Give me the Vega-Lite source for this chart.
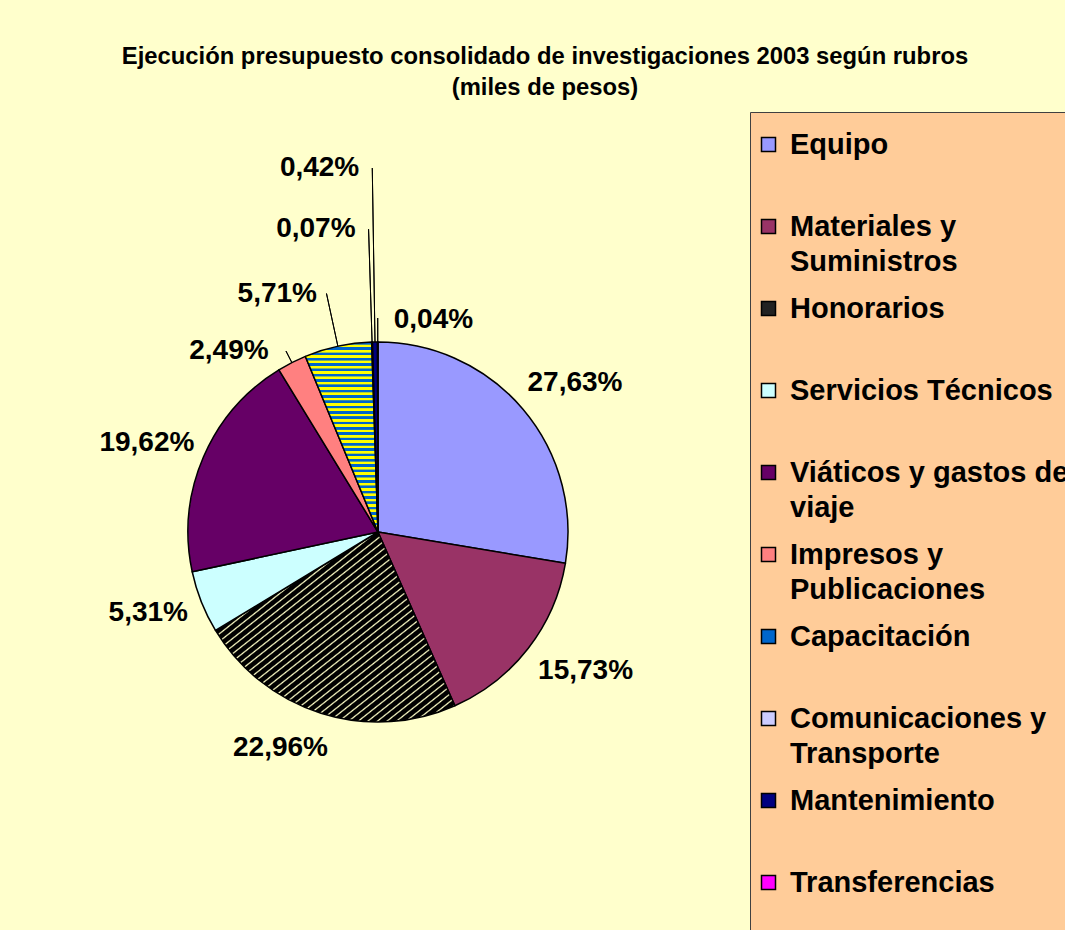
{
  "$schema": "https://vega.github.io/schema/vega-lite/v6.json",
  "width": 740,
  "height": 1040,
  "autosize": "none",
  "padding": {"left": 8, "top": 12, "right": 317, "bottom": 0},
  "background": "#FFFFCC",
  "title": {
    "text": ["Ejecución presupuesto consolidado de investigaciones 2003 según rubros", "(miles de pesos)"],
    "font": "Liberation Sans",
    "fontSize": 23.8,
    "fontWeight": "bold",
    "color": "#000000",
    "lineHeight": 31,
    "anchor": "middle",
    "dx": 167,
    "offset": -88
  },
  "data": {
    "values": [
      {"i": 1, "rubro": "Equipo", "share": 0.2763},
      {"i": 2, "rubro": "Materiales y Suministros", "share": 0.1573},
      {"i": 3, "rubro": "Honorarios", "share": 0.2296},
      {"i": 4, "rubro": "Servicios Técnicos", "share": 0.0531},
      {"i": 5, "rubro": "Viáticos y gastos de viaje", "share": 0.1962},
      {"i": 6, "rubro": "Impresos y Publicaciones", "share": 0.0249},
      {"i": 7, "rubro": "Capacitación", "share": 0.0571},
      {"i": 8, "rubro": "Comunicaciones y Transporte", "share": 0.0007},
      {"i": 9, "rubro": "Mantenimiento", "share": 0.0042},
      {"i": 10, "rubro": "Transferencias", "share": 0.0004}
    ]
  },
  "layer": [
    {
      "mark": {"type": "arc", "outerRadius": 190, "stroke": "#000000", "strokeWidth": 1.5, "strokeJoin": "round"},
      "encoding": {
        "theta": {"field": "share", "type": "quantitative", "stack": true},
        "order": {"field": "i", "type": "quantitative"},
        "fill": {
          "field": "rubro",
          "type": "nominal",
          "scale": {
            "domain": ["Equipo", "Materiales y Suministros", "Honorarios", "Servicios Técnicos", "Viáticos y gastos de viaje", "Impresos y Publicaciones", "Capacitación", "Comunicaciones y Transporte", "Mantenimiento", "Transferencias"],
            "range": ["#9999FF", "#993366", "#222222", "#CCFFFF", "#660066", "#FF8080", "#0066CC", "#CCCCFF", "#000080", "#FF00FF"]
          },
          "legend": {
            "title": " ",
            "titleFontSize": 4,
            "titlePadding": 10,
            "orient": "none",
            "legendX": 742,
            "legendY": 100,
            "direction": "vertical",
            "fillColor": "#FFCC99",
            "strokeColor": "#404040",
            "padding": 4,
            "symbolType": "square",
            "symbolSize": 196,
            "symbolStrokeColor": "#000000",
            "symbolStrokeWidth": 1.5,
            "labelFont": "Liberation Sans",
            "labelFontSize": 29,
            "labelFontWeight": "bold",
            "labelColor": "#000000",
            "labelOffset": 7,
            "labelLimit": 600,
            "rowPadding": 17,
            "labelExpr": "datum.label === 'Materiales y Suministros' ? ['Materiales y', 'Suministros'] : datum.label === 'Viáticos y gastos de viaje' ? ['Viáticos y gastos de', 'viaje'] : datum.label === 'Impresos y Publicaciones' ? ['Impresos y', 'Publicaciones'] : datum.label === 'Comunicaciones y Transporte' ? ['Comunicaciones y', 'Transporte'] : [datum.label, '']",
            "encoding": {
              "labels": {"lineHeight": {"value": 35}},
              "symbols": {
                "stroke": {"value": "#000000"},
                "strokeWidth": {"value": 1.5},
                "fill": {"value": {"signal": "datum.value === 'Honorarios' ? {gradient: 'linear', x1: 0, y1: 0, x2: 1, y2: 1, stops: [{offset: 0, color: '#000000'}, {offset: 0.38, color: '#000000'}, {offset: 0.5, color: '#FFFFC8'}, {offset: 0.62, color: '#000000'}, {offset: 1, color: '#000000'}]} : datum.value === 'Capacitación' ? {gradient: 'linear', x1: 0, y1: 0, x2: 0, y2: 1, stops: [{offset: 0, color: '#0066CC'}, {offset: 0.22, color: '#0066CC'}, {offset: 0.22, color: '#FFFF00'}, {offset: 0.4, color: '#FFFF00'}, {offset: 0.4, color: '#0066CC'}, {offset: 0.6, color: '#0066CC'}, {offset: 0.6, color: '#FFFF00'}, {offset: 0.78, color: '#FFFF00'}, {offset: 0.78, color: '#0066CC'}, {offset: 1, color: '#0066CC'}]} : scale('fill', datum.value)"}}
              }
            }
          },
          "condition": [
            {
              "test": "datum.rubro === 'Honorarios'",
              "value": {
                "gradient": "linear", "x1": 0, "y1": 0, "x2": 1, "y2": 1,
                "stops": [
                  {"offset": 0, "color": "#000000"}, {"offset": 0.012, "color": "#000000"}, {"offset": 0.016, "color": "#FFFFC8"},
                  {"offset": 0.02, "color": "#000000"}, {"offset": 0.032, "color": "#000000"}, {"offset": 0.036, "color": "#FFFFC8"},
                  {"offset": 0.04, "color": "#000000"}, {"offset": 0.052, "color": "#000000"}, {"offset": 0.056, "color": "#FFFFC8"},
                  {"offset": 0.06, "color": "#000000"}, {"offset": 0.072, "color": "#000000"}, {"offset": 0.076, "color": "#FFFFC8"},
                  {"offset": 0.08, "color": "#000000"}, {"offset": 0.092, "color": "#000000"}, {"offset": 0.096, "color": "#FFFFC8"},
                  {"offset": 0.1, "color": "#000000"}, {"offset": 0.112, "color": "#000000"}, {"offset": 0.116, "color": "#FFFFC8"},
                  {"offset": 0.12, "color": "#000000"}, {"offset": 0.132, "color": "#000000"}, {"offset": 0.136, "color": "#FFFFC8"},
                  {"offset": 0.14, "color": "#000000"}, {"offset": 0.152, "color": "#000000"}, {"offset": 0.156, "color": "#FFFFC8"},
                  {"offset": 0.16, "color": "#000000"}, {"offset": 0.172, "color": "#000000"}, {"offset": 0.176, "color": "#FFFFC8"},
                  {"offset": 0.18, "color": "#000000"}, {"offset": 0.192, "color": "#000000"}, {"offset": 0.196, "color": "#FFFFC8"},
                  {"offset": 0.2, "color": "#000000"}, {"offset": 0.212, "color": "#000000"}, {"offset": 0.216, "color": "#FFFFC8"},
                  {"offset": 0.22, "color": "#000000"}, {"offset": 0.232, "color": "#000000"}, {"offset": 0.236, "color": "#FFFFC8"},
                  {"offset": 0.24, "color": "#000000"}, {"offset": 0.252, "color": "#000000"}, {"offset": 0.256, "color": "#FFFFC8"},
                  {"offset": 0.26, "color": "#000000"}, {"offset": 0.272, "color": "#000000"}, {"offset": 0.276, "color": "#FFFFC8"},
                  {"offset": 0.28, "color": "#000000"}, {"offset": 0.292, "color": "#000000"}, {"offset": 0.296, "color": "#FFFFC8"},
                  {"offset": 0.3, "color": "#000000"}, {"offset": 0.312, "color": "#000000"}, {"offset": 0.316, "color": "#FFFFC8"},
                  {"offset": 0.32, "color": "#000000"}, {"offset": 0.332, "color": "#000000"}, {"offset": 0.336, "color": "#FFFFC8"},
                  {"offset": 0.34, "color": "#000000"}, {"offset": 0.352, "color": "#000000"}, {"offset": 0.356, "color": "#FFFFC8"},
                  {"offset": 0.36, "color": "#000000"}, {"offset": 0.372, "color": "#000000"}, {"offset": 0.376, "color": "#FFFFC8"},
                  {"offset": 0.38, "color": "#000000"}, {"offset": 0.392, "color": "#000000"}, {"offset": 0.396, "color": "#FFFFC8"},
                  {"offset": 0.4, "color": "#000000"}, {"offset": 0.412, "color": "#000000"}, {"offset": 0.416, "color": "#FFFFC8"},
                  {"offset": 0.42, "color": "#000000"}, {"offset": 0.432, "color": "#000000"}, {"offset": 0.436, "color": "#FFFFC8"},
                  {"offset": 0.44, "color": "#000000"}, {"offset": 0.452, "color": "#000000"}, {"offset": 0.456, "color": "#FFFFC8"},
                  {"offset": 0.46, "color": "#000000"}, {"offset": 0.472, "color": "#000000"}, {"offset": 0.476, "color": "#FFFFC8"},
                  {"offset": 0.48, "color": "#000000"}, {"offset": 0.492, "color": "#000000"}, {"offset": 0.496, "color": "#FFFFC8"},
                  {"offset": 0.5, "color": "#000000"}, {"offset": 0.512, "color": "#000000"}, {"offset": 0.516, "color": "#FFFFC8"},
                  {"offset": 0.52, "color": "#000000"}, {"offset": 0.532, "color": "#000000"}, {"offset": 0.536, "color": "#FFFFC8"},
                  {"offset": 0.54, "color": "#000000"}, {"offset": 0.552, "color": "#000000"}, {"offset": 0.556, "color": "#FFFFC8"},
                  {"offset": 0.56, "color": "#000000"}, {"offset": 0.572, "color": "#000000"}, {"offset": 0.576, "color": "#FFFFC8"},
                  {"offset": 0.58, "color": "#000000"}, {"offset": 0.592, "color": "#000000"}, {"offset": 0.596, "color": "#FFFFC8"},
                  {"offset": 0.6, "color": "#000000"}, {"offset": 0.612, "color": "#000000"}, {"offset": 0.616, "color": "#FFFFC8"},
                  {"offset": 0.62, "color": "#000000"}, {"offset": 0.632, "color": "#000000"}, {"offset": 0.636, "color": "#FFFFC8"},
                  {"offset": 0.64, "color": "#000000"}, {"offset": 0.652, "color": "#000000"}, {"offset": 0.656, "color": "#FFFFC8"},
                  {"offset": 0.66, "color": "#000000"}, {"offset": 0.672, "color": "#000000"}, {"offset": 0.676, "color": "#FFFFC8"},
                  {"offset": 0.68, "color": "#000000"}, {"offset": 0.692, "color": "#000000"}, {"offset": 0.696, "color": "#FFFFC8"},
                  {"offset": 0.7, "color": "#000000"}, {"offset": 0.712, "color": "#000000"}, {"offset": 0.716, "color": "#FFFFC8"},
                  {"offset": 0.72, "color": "#000000"}, {"offset": 0.732, "color": "#000000"}, {"offset": 0.736, "color": "#FFFFC8"},
                  {"offset": 0.74, "color": "#000000"}, {"offset": 0.752, "color": "#000000"}, {"offset": 0.756, "color": "#FFFFC8"},
                  {"offset": 0.76, "color": "#000000"}, {"offset": 0.772, "color": "#000000"}, {"offset": 0.776, "color": "#FFFFC8"},
                  {"offset": 0.78, "color": "#000000"}, {"offset": 0.792, "color": "#000000"}, {"offset": 0.796, "color": "#FFFFC8"},
                  {"offset": 0.8, "color": "#000000"}, {"offset": 0.812, "color": "#000000"}, {"offset": 0.816, "color": "#FFFFC8"},
                  {"offset": 0.82, "color": "#000000"}, {"offset": 0.832, "color": "#000000"}, {"offset": 0.836, "color": "#FFFFC8"},
                  {"offset": 0.84, "color": "#000000"}, {"offset": 0.852, "color": "#000000"}, {"offset": 0.856, "color": "#FFFFC8"},
                  {"offset": 0.86, "color": "#000000"}, {"offset": 0.872, "color": "#000000"}, {"offset": 0.876, "color": "#FFFFC8"},
                  {"offset": 0.88, "color": "#000000"}, {"offset": 0.892, "color": "#000000"}, {"offset": 0.896, "color": "#FFFFC8"},
                  {"offset": 0.9, "color": "#000000"}, {"offset": 0.912, "color": "#000000"}, {"offset": 0.916, "color": "#FFFFC8"},
                  {"offset": 0.92, "color": "#000000"}, {"offset": 0.932, "color": "#000000"}, {"offset": 0.936, "color": "#FFFFC8"},
                  {"offset": 0.94, "color": "#000000"}, {"offset": 0.952, "color": "#000000"}, {"offset": 0.956, "color": "#FFFFC8"},
                  {"offset": 0.96, "color": "#000000"}, {"offset": 0.972, "color": "#000000"}, {"offset": 0.976, "color": "#FFFFC8"},
                  {"offset": 0.98, "color": "#000000"}, {"offset": 0.992, "color": "#000000"}, {"offset": 0.996, "color": "#FFFFC8"},
                  {"offset": 1, "color": "#000000"}
                ]
              }
            },
            {
              "test": "datum.rubro === 'Capacitación'",
              "value": {
                "gradient": "linear", "x1": 0, "y1": 0, "x2": 0, "y2": 1,
                "stops": [
                  {"offset": 0, "color": "#0066CC"}, {"offset": 0.012, "color": "#0066CC"}, {"offset": 0.014, "color": "#FFFF00"}, {"offset": 0.026, "color": "#FFFF00"},
                  {"offset": 0.028, "color": "#0066CC"}, {"offset": 0.04, "color": "#0066CC"}, {"offset": 0.042, "color": "#FFFF00"}, {"offset": 0.054, "color": "#FFFF00"},
                  {"offset": 0.056, "color": "#0066CC"}, {"offset": 0.068, "color": "#0066CC"}, {"offset": 0.07, "color": "#FFFF00"}, {"offset": 0.082, "color": "#FFFF00"},
                  {"offset": 0.084, "color": "#0066CC"}, {"offset": 0.096, "color": "#0066CC"}, {"offset": 0.098, "color": "#FFFF00"}, {"offset": 0.11, "color": "#FFFF00"},
                  {"offset": 0.112, "color": "#0066CC"}, {"offset": 0.124, "color": "#0066CC"}, {"offset": 0.126, "color": "#FFFF00"}, {"offset": 0.138, "color": "#FFFF00"},
                  {"offset": 0.14, "color": "#0066CC"}, {"offset": 0.152, "color": "#0066CC"}, {"offset": 0.154, "color": "#FFFF00"}, {"offset": 0.166, "color": "#FFFF00"},
                  {"offset": 0.168, "color": "#0066CC"}, {"offset": 0.18, "color": "#0066CC"}, {"offset": 0.182, "color": "#FFFF00"}, {"offset": 0.194, "color": "#FFFF00"},
                  {"offset": 0.196, "color": "#0066CC"}, {"offset": 0.208, "color": "#0066CC"}, {"offset": 0.21, "color": "#FFFF00"}, {"offset": 0.222, "color": "#FFFF00"},
                  {"offset": 0.224, "color": "#0066CC"}, {"offset": 0.236, "color": "#0066CC"}, {"offset": 0.238, "color": "#FFFF00"}, {"offset": 0.25, "color": "#FFFF00"},
                  {"offset": 0.252, "color": "#0066CC"}, {"offset": 0.264, "color": "#0066CC"}, {"offset": 0.266, "color": "#FFFF00"}, {"offset": 0.278, "color": "#FFFF00"},
                  {"offset": 0.28, "color": "#0066CC"}, {"offset": 0.292, "color": "#0066CC"}, {"offset": 0.294, "color": "#FFFF00"}, {"offset": 0.306, "color": "#FFFF00"},
                  {"offset": 0.308, "color": "#0066CC"}, {"offset": 0.32, "color": "#0066CC"}, {"offset": 0.322, "color": "#FFFF00"}, {"offset": 0.334, "color": "#FFFF00"},
                  {"offset": 0.336, "color": "#0066CC"}, {"offset": 0.348, "color": "#0066CC"}, {"offset": 0.35, "color": "#FFFF00"}, {"offset": 0.362, "color": "#FFFF00"},
                  {"offset": 0.364, "color": "#0066CC"}, {"offset": 0.376, "color": "#0066CC"}, {"offset": 0.378, "color": "#FFFF00"}, {"offset": 0.39, "color": "#FFFF00"},
                  {"offset": 0.392, "color": "#0066CC"}, {"offset": 0.404, "color": "#0066CC"}, {"offset": 0.406, "color": "#FFFF00"}, {"offset": 0.418, "color": "#FFFF00"},
                  {"offset": 0.42, "color": "#0066CC"}, {"offset": 0.432, "color": "#0066CC"}, {"offset": 0.434, "color": "#FFFF00"}, {"offset": 0.446, "color": "#FFFF00"},
                  {"offset": 0.448, "color": "#0066CC"}, {"offset": 0.46, "color": "#0066CC"}, {"offset": 0.462, "color": "#FFFF00"}, {"offset": 0.474, "color": "#FFFF00"},
                  {"offset": 0.476, "color": "#0066CC"}, {"offset": 0.488, "color": "#0066CC"}, {"offset": 0.49, "color": "#FFFF00"}, {"offset": 0.502, "color": "#FFFF00"},
                  {"offset": 0.504, "color": "#0066CC"}, {"offset": 0.516, "color": "#0066CC"}, {"offset": 0.518, "color": "#FFFF00"}, {"offset": 0.53, "color": "#FFFF00"},
                  {"offset": 0.532, "color": "#0066CC"}, {"offset": 0.544, "color": "#0066CC"}, {"offset": 0.546, "color": "#FFFF00"}, {"offset": 0.558, "color": "#FFFF00"},
                  {"offset": 0.56, "color": "#0066CC"}, {"offset": 0.572, "color": "#0066CC"}, {"offset": 0.574, "color": "#FFFF00"}, {"offset": 0.586, "color": "#FFFF00"},
                  {"offset": 0.588, "color": "#0066CC"}, {"offset": 0.6, "color": "#0066CC"}, {"offset": 0.602, "color": "#FFFF00"}, {"offset": 0.614, "color": "#FFFF00"},
                  {"offset": 0.616, "color": "#0066CC"}, {"offset": 0.628, "color": "#0066CC"}, {"offset": 0.63, "color": "#FFFF00"}, {"offset": 0.642, "color": "#FFFF00"},
                  {"offset": 0.644, "color": "#0066CC"}, {"offset": 0.656, "color": "#0066CC"}, {"offset": 0.658, "color": "#FFFF00"}, {"offset": 0.67, "color": "#FFFF00"},
                  {"offset": 0.672, "color": "#0066CC"}, {"offset": 0.684, "color": "#0066CC"}, {"offset": 0.686, "color": "#FFFF00"}, {"offset": 0.698, "color": "#FFFF00"},
                  {"offset": 0.7, "color": "#0066CC"}, {"offset": 0.712, "color": "#0066CC"}, {"offset": 0.714, "color": "#FFFF00"}, {"offset": 0.726, "color": "#FFFF00"},
                  {"offset": 0.728, "color": "#0066CC"}, {"offset": 0.74, "color": "#0066CC"}, {"offset": 0.742, "color": "#FFFF00"}, {"offset": 0.754, "color": "#FFFF00"},
                  {"offset": 0.756, "color": "#0066CC"}, {"offset": 0.768, "color": "#0066CC"}, {"offset": 0.77, "color": "#FFFF00"}, {"offset": 0.782, "color": "#FFFF00"},
                  {"offset": 0.784, "color": "#0066CC"}, {"offset": 0.796, "color": "#0066CC"}, {"offset": 0.798, "color": "#FFFF00"}, {"offset": 0.81, "color": "#FFFF00"},
                  {"offset": 0.812, "color": "#0066CC"}, {"offset": 0.824, "color": "#0066CC"}, {"offset": 0.826, "color": "#FFFF00"}, {"offset": 0.838, "color": "#FFFF00"},
                  {"offset": 0.84, "color": "#0066CC"}, {"offset": 0.852, "color": "#0066CC"}, {"offset": 0.854, "color": "#FFFF00"}, {"offset": 0.866, "color": "#FFFF00"},
                  {"offset": 0.868, "color": "#0066CC"}, {"offset": 0.88, "color": "#0066CC"}, {"offset": 0.882, "color": "#FFFF00"}, {"offset": 0.894, "color": "#FFFF00"},
                  {"offset": 0.896, "color": "#0066CC"}, {"offset": 0.908, "color": "#0066CC"}, {"offset": 0.91, "color": "#FFFF00"}, {"offset": 0.922, "color": "#FFFF00"},
                  {"offset": 0.924, "color": "#0066CC"}, {"offset": 0.936, "color": "#0066CC"}, {"offset": 0.938, "color": "#FFFF00"}, {"offset": 0.95, "color": "#FFFF00"},
                  {"offset": 0.952, "color": "#0066CC"}, {"offset": 0.964, "color": "#0066CC"}, {"offset": 0.966, "color": "#FFFF00"}, {"offset": 0.978, "color": "#FFFF00"},
                  {"offset": 0.98, "color": "#0066CC"}, {"offset": 0.992, "color": "#0066CC"}, {"offset": 0.994, "color": "#FFFF00"}, {"offset": 1, "color": "#FFFF00"}
                ]
              }
            }
          ]
        }
      }
    },
    {
      "mark": {
        "type": "arc",
        "innerRadius": 190,
        "outerRadius": {"expr": "datum.rubro === 'Impresos y Publicaciones' ? 203 : datum.rubro === 'Capacitación' ? 244 : datum.rubro === 'Comunicaciones y Transporte' ? 303 : datum.rubro === 'Mantenimiento' ? 364 : datum.rubro === 'Transferencias' ? 214 : 190"},
        "padAngle": 0.6,
        "fill": "transparent",
        "stroke": "#000000",
        "strokeWidth": {"expr": "indexof(['Impresos y Publicaciones', 'Capacitación', 'Comunicaciones y Transporte', 'Mantenimiento', 'Transferencias'], datum.rubro) >= 0 ? 1 : 0"}
      },
      "encoding": {
        "theta": {"field": "share", "type": "quantitative", "stack": true},
        "order": {"field": "i", "type": "quantitative"}
      }
    },
    {
      "mark": {
        "type": "text",
        "font": "Liberation Sans",
        "fontSize": 28,
        "fontWeight": "bold",
        "fill": "#000000",
        "baseline": "middle",
        "radius": {"expr": "datum.rubro === 'Mantenimiento' ? 364 : datum.rubro === 'Comunicaciones y Transporte' ? 303 : datum.rubro === 'Transferencias' ? 212 : 245"},
        "align": {"expr": "datum.rubro === 'Mantenimiento' || datum.rubro === 'Comunicaciones y Transporte' ? 'right' : datum.rubro === 'Transferencias' ? 'left' : 'center'"},
        "dx": {"expr": "datum.rubro === 'Equipo' ? 10 : datum.rubro === 'Materiales y Suministros' ? 14 : datum.rubro === 'Honorarios' ? -24 : datum.rubro === 'Servicios Técnicos' ? -2 : datum.rubro === 'Viáticos y gastos de viaje' ? -6 : datum.rubro === 'Impresos y Publicaciones' ? -38 : datum.rubro === 'Capacitación' ? -49 : datum.rubro === 'Transferencias' ? 16 : -13"},
        "dy": {"expr": "datum.rubro === 'Equipo' ? 9 : datum.rubro === 'Materiales y Suministros' ? -11 : datum.rubro === 'Honorarios' ? -18 : datum.rubro === 'Servicios Técnicos' ? -9 : datum.rubro === 'Viáticos y gastos de viaje' ? 8 : datum.rubro === 'Impresos y Publicaciones' ? 37 : datum.rubro === 'Capacitación' ? 1 : 0"}
      },
      "encoding": {
        "theta": {"field": "share", "type": "quantitative", "stack": true},
        "order": {"field": "i", "type": "quantitative"},
        "text": {"field": "share", "type": "quantitative", "format": ".2%"}
      }
    }
  ],
  "config": {
    "locale": {"number": {"decimal": ",", "thousands": ".", "grouping": [3], "currency": ["$", ""]}},
    "view": {"fill": "#FFFFCC", "stroke": "#404040", "strokeWidth": 2, "strokeDash": [740, 1040, 2000]}
  }
}
